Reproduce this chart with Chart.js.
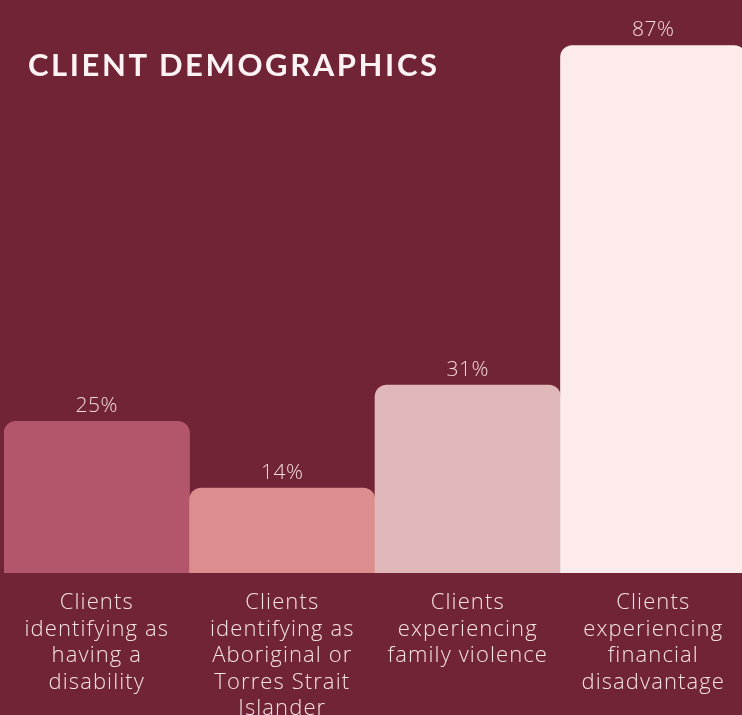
<!DOCTYPE html>
<html>
<head>
<meta charset="utf-8">
<script src="https://cdn.jsdelivr.net/npm/chart.js@4/dist/chart.umd.min.js"></script>
<style>
  html, body { margin: 0; padding: 0; background: #712435; overflow: hidden; }
  #wrap { position: relative; width: 742px; height: 715px; overflow: hidden; }
  #title {
    position: absolute; left: 28px; top: 46px; margin: 0;
    font-family: Lato, "Open Sans", sans-serif; font-weight: 700;
    font-size: 31px; letter-spacing: 2.6px; color: #fdf3f4; line-height: 1.2;
  }
</style>
</head>
<body>
<div id="wrap">
  <canvas id="c" width="746" height="715"></canvas>
  <h1 id="title">CLIENT DEMOGRAPHICS</h1>
</div>
<script>
const categories = [
  ["Clients", "identifying as", "having a", "disability"],
  ["Clients", "identifying as", "Aboriginal or", "Torres Strait", "Islander"],
  ["Clients", "experiencing", "family violence"],
  ["Clients", "experiencing", "financial", "disadvantage"]
];
const percentages = [25, 14, 31, 87];
const barColors = ["#b4566b", "#dc8d8d", "#e0b7b8", "#fdebec"];

// Slightly wider tracking for the category captions under the bars
const captionSpacing = {
  id: "captionSpacing",
  beforeDraw(chart) { chart.ctx.letterSpacing = "1.1px"; },
  afterDatasetsDraw(chart) { chart.ctx.letterSpacing = "0.5px"; }
};

const valueLabels = {
  id: "valueLabels",
  afterDatasetsDraw(chart) {
    const ctx = chart.ctx;
    const meta = chart.getDatasetMeta(0);
    ctx.save();
    ctx.font = "300 21px 'Open Sans', Lato, sans-serif";
    ctx.fillStyle = "#f3d9dc";
    ctx.textAlign = "center";
    ctx.textBaseline = "middle";
    meta.data.forEach((bar, i) => {
      ctx.fillText(percentages[i] + "%", bar.x, bar.y - 15);
    });
    ctx.restore();
  }
};

new Chart(document.getElementById("c"), {
  type: "bar",
  data: {
    labels: categories,
    datasets: [{
      data: percentages,
      backgroundColor: barColors,
      borderRadius: 12,
      borderSkipped: "bottom",
      barPercentage: 1,
      categoryPercentage: 1
    }]
  },
  options: {
    responsive: false,
    animation: false,
    layout: { padding: { left: 4, right: 0, top: 0, bottom: 0 } },
    plugins: { legend: { display: false }, tooltip: { enabled: false }, title: { display: false } },
    scales: {
      y: { display: false, min: 0, max: 94.5 },
      x: {
        grid: { display: false, drawTicks: false },
        border: { display: false },
        afterFit(scale) { scale.height = 142; },
        ticks: {
          color: "#f5e3e5",
          padding: 17,
          maxRotation: 0,
          autoSkip: false,
          font: { family: "'Open Sans', Lato, sans-serif", size: 22, weight: 300, lineHeight: 1.2 }
        }
      }
    }
  },
  plugins: [captionSpacing, valueLabels]
});
</script>
</body>
</html>
